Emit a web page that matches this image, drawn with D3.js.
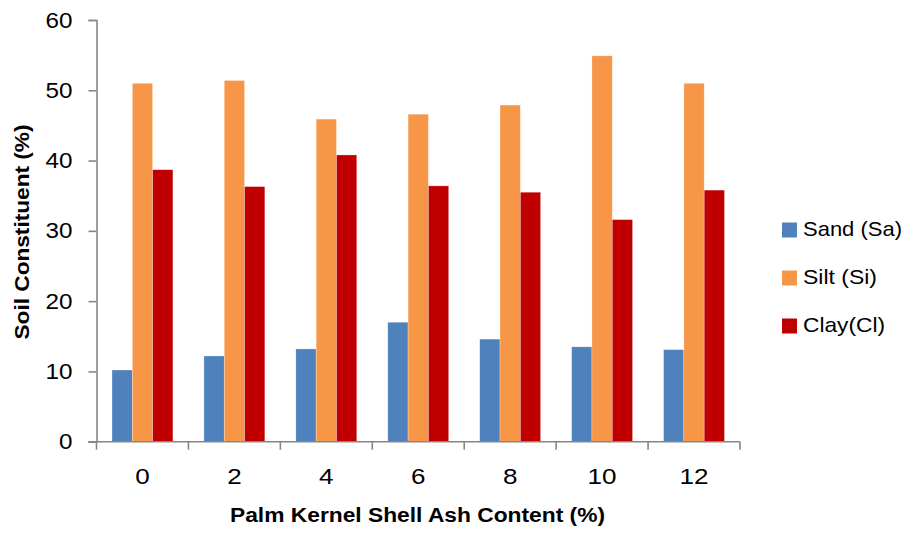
<!DOCTYPE html>
<html><head><meta charset="utf-8">
<script src="https://cdn.jsdelivr.net/npm/d3@7"></script>
<style>body{margin:0;background:#fff}svg{display:block}</style>
</head><body>
<svg id="c" width="905" height="533"></svg>
<script>
const categories = ["0","2","4","6","8","10","12"];
const seriesNames = ["Sand (Sa)","Silt (Si)","Clay(Cl)"];
const sand = [10.2, 12.2, 13.2, 17.0, 14.6, 13.5, 13.1];
const silt = [51.0, 51.4, 45.9, 46.6, 47.9, 54.9, 51.0];
const clay = [38.7, 36.3, 40.8, 36.4, 35.5, 31.6, 35.8];
const yTicks = [0,10,20,30,40,50,60];
const colors = ["#4F81BD","#F79646","#C00000"];
const seriesValues = [sand, silt, clay];

(function(){
const svg = d3.select("#c");
const mLeft = 96.5, mRight = 740, mTop = 20, mBottom = 441.7;
const font = "'Liberation Sans', Arial, sans-serif";

const x = d3.scaleBand().domain(categories).range([mLeft, mRight]).paddingInner(0).paddingOuter(0);
const inner = d3.scaleBand().domain(d3.range(3)).range([15.5, x.bandwidth()-15.5]).padding(0);
const y = d3.scaleLinear().domain([0,60]).range([mBottom, mTop]);

// bars
seriesValues.forEach((vals, si) => {
  svg.append("g").selectAll("rect").data(vals).join("rect")
    .attr("x", (d,i) => x(categories[i]) + inner(si))
    .attr("y", d => y(d))
    .attr("width", inner.bandwidth())
    .attr("height", d => mBottom - y(d))
    .attr("fill", colors[si])
    .attr("stroke", "#ffffff").attr("stroke-opacity", 0.5).attr("stroke-width", 0.6);
});

// y axis
const yAxis = d3.axisLeft(y).tickValues(yTicks).tickSize(8).tickPadding(16);
const gy = svg.append("g").attr("transform", `translate(${mLeft},0)`).call(yAxis);
gy.select(".domain").attr("stroke", "#868686").attr("stroke-width", 1.6);
gy.selectAll(".tick line").attr("stroke", "#868686").attr("stroke-width", 1.6);
gy.selectAll(".tick text").attr("font-family", font).attr("font-size", 22).attr("fill", "#000")
  .attr("textLength", d => String(d).length * 13.5).attr("lengthAdjust","spacingAndGlyphs");

// x axis: ticks at band boundaries
const gx = svg.append("g").attr("transform", `translate(0,${mBottom})`);
gx.append("line").attr("x1", mLeft-8).attr("x2", mRight).attr("y1",0).attr("y2",0)
  .attr("stroke","#868686").attr("stroke-width",1.6);
const bounds = categories.map(c => x(c)).concat([mRight]);
gx.selectAll("line.tk").data(bounds).join("line").attr("class","tk")
  .attr("x1", d=>d).attr("x2", d=>d).attr("y1",0).attr("y2",8)
  .attr("stroke","#868686").attr("stroke-width",1.6);
gx.selectAll("text").data(categories).join("text")
  .attr("x", d => x(d) + x.bandwidth()/2).attr("y", 36.5)
  .attr("text-anchor","middle").attr("dominant-baseline","middle")
  .attr("font-family", font).attr("font-size", 22).attr("fill","#000")
  .attr("textLength", d => d.length * 14.5).attr("lengthAdjust","spacingAndGlyphs")
  .text(d => d);

// axis titles
svg.append("text").attr("x", 417.5).attr("y", 522)
  .attr("text-anchor","middle").attr("font-family", font).attr("font-weight","bold")
  .attr("font-size", 20).attr("textLength", 375).attr("lengthAdjust","spacingAndGlyphs")
  .text("Palm Kernel Shell Ash Content (%)");
svg.append("text").attr("transform", "translate(29,232) rotate(-90)")
  .attr("text-anchor","middle").attr("font-family", font).attr("font-weight","bold")
  .attr("font-size", 20).attr("textLength", 215).attr("lengthAdjust","spacingAndGlyphs")
  .text("Soil Constituent (%)");

// legend
const legY = [230, 278, 326];
const legW = [99, 74, 82];
const lg = svg.append("g");
seriesNames.forEach((n,i) => {
  lg.append("rect").attr("x", 782).attr("y", legY[i]-7.5).attr("width", 15).attr("height", 15).attr("fill", colors[i]);
  lg.append("text").attr("x", 803).attr("y", legY[i]).attr("dominant-baseline","middle")
    .attr("font-family", font).attr("font-size", 21).attr("fill","#000")
    .attr("textLength", legW[i]).attr("lengthAdjust","spacingAndGlyphs")
    .text(n);
});
})();
</script>
</body></html>
